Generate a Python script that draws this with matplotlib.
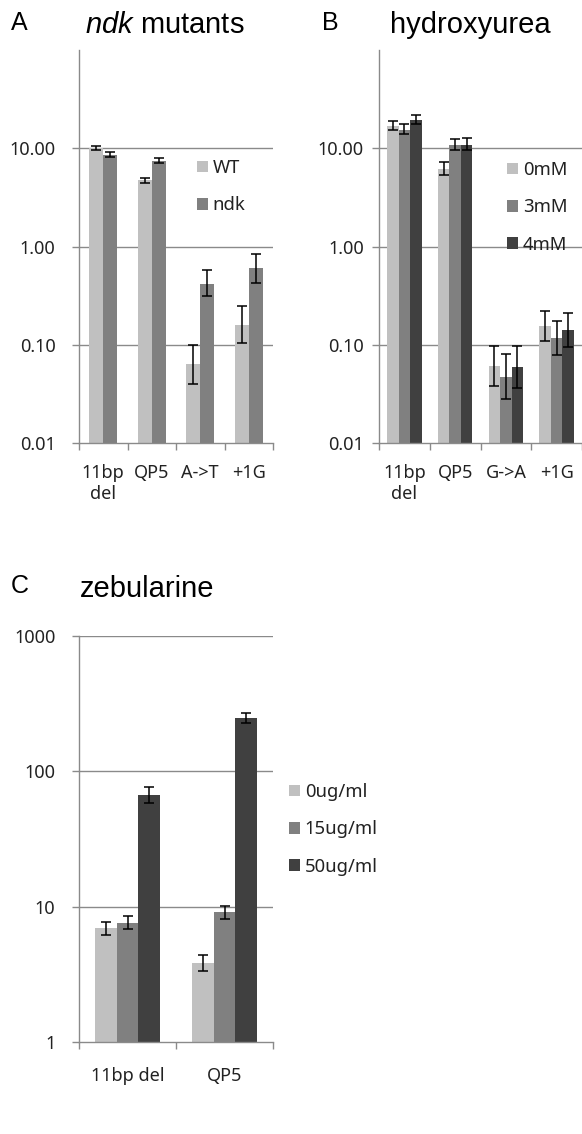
import matplotlib
matplotlib.use("Agg")
import matplotlib.pyplot as plt
import numpy as np

plt.rcParams['font.family'] = ['Noto Sans', 'DejaVu Sans']
plt.rcParams['mathtext.fontset'] = 'custom'
plt.rcParams['mathtext.it'] = 'Liberation Sans:italic'
plt.rcParams['mathtext.rm'] = 'Liberation Sans'

# %% data
cats_a = ["11bp\ndel", "QP5", "A->T", "+1G"]
series_a = ["WT", "ndk"]
vals_a = [[10.0, 4.7, 0.064, 0.16],
          [8.6, 7.4, 0.42, 0.60]]
lo_a = [[9.6, 4.4, 0.040, 0.104],
        [8.1, 7.0, 0.31, 0.43]]
hi_a = [[10.5, 5.0, 0.100, 0.246],
        [9.1, 7.9, 0.58, 0.83]]

cats_b = ["11bp\ndel", "QP5", "G->A", "+1G"]
series_b = ["0mM", "3mM", "4mM"]
vals_b = [[16.8, 6.2, 0.061, 0.156],
          [15.3, 10.7, 0.0475, 0.117],
          [19.3, 10.8, 0.059, 0.141]]
lo_b = [[15.5, 5.4, 0.038, 0.109],
        [14.1, 9.5, 0.028, 0.079],
        [17.5, 9.5, 0.036, 0.094]]
hi_b = [[19.0, 7.2, 0.096, 0.221],
        [17.5, 12.4, 0.080, 0.176],
        [21.7, 12.6, 0.096, 0.210]]

cats_c = ["11bp del", "QP5"]
series_c = ["0ug/ml", "15ug/ml", "50ug/ml"]
vals_c = [[6.9, 3.86],
          [7.6, 9.1],
          [67.0, 249.0]]
lo_c = [[6.2, 3.37],
        [6.8, 8.1],
        [58.5, 226.0]]
hi_c = [[7.7, 4.4],
        [8.5, 10.2],
        [76.7, 272.0]]

colors2 = ["#c0c0c0", "#808080"]
colors3 = ["#c0c0c0", "#808080", "#404040"]
GRID = "#8a8a8a"
TXT = "#222222"

W, H = 582, 1134
fig = plt.figure(figsize=(W / 100, H / 100), dpi=100)


def px(x0, y0, x1, y1):
    # pixel box -> figure fraction rect
    return [x0 / W, 1 - y1 / H, (x1 - x0) / W, (y1 - y0) / H]


def panel(rect, cats, series, vals, lo, hi, colors, width, ylim, yticks,
          ylabels, ypad, xpad):
    ax = fig.add_axes(rect)
    ax.set_yscale("log")
    n = len(series)
    x = np.arange(len(cats))
    offs = (np.arange(n) - (n - 1) / 2) * width
    handles = []
    for i in range(n):
        v = np.array(vals[i])
        yerr = [v - np.array(lo[i]), np.array(hi[i]) - v]
        b = ax.bar(x + offs[i], v, width, color=colors[i], zorder=2,
                   label=series[i])
        ax.errorbar(x + offs[i], v, yerr=yerr, fmt="none", ecolor="black",
                    elinewidth=1.1, capsize=3.5, capthick=1.1, zorder=3)
        handles.append(b)
    ax.set_xlim(-0.5, len(cats) - 0.5)
    ax.set_ylim(*ylim)
    ax.set_yticks(yticks)
    ax.set_yticklabels(ylabels)
    ax.yaxis.set_minor_locator(matplotlib.ticker.NullLocator())
    for t in yticks[1:]:
        ax.axhline(t, color=GRID, lw=1.0, zorder=1)
    ax.set_xticks(x)
    ax.set_xticklabels(cats, linespacing=1.25)
    ax.set_xticks(np.arange(len(cats) + 1) - 0.5, minor=True)
    ax.tick_params(axis="x", which="major", length=0, pad=xpad, labelsize=13,
                   colors=TXT)
    ax.tick_params(axis="x", which="minor", length=5, width=1, color=GRID)
    ax.tick_params(axis="y", which="major", length=5, width=1, color=GRID,
                   pad=ypad, labelsize=13, labelcolor=TXT)
    for s in ("top", "right"):
        ax.spines[s].set_visible(False)
    for s in ("left", "bottom"):
        ax.spines[s].set_color(GRID)
        ax.spines[s].set_linewidth(1.0)
    return ax, handles


dec_ticks = [0.01, 0.1, 1, 10]
dec_labels = ["0.01", "0.10", "1.00", "10.00"]

ax_a, h_a = panel(px(79, 50, 273, 443), cats_a, series_a, vals_a, lo_a, hi_a,
                  colors2, 0.29, (0.01, 100), dec_ticks, dec_labels, 12, 15)
ax_b, h_b = panel(px(379, 50, 582, 443), cats_b, series_b, vals_b, lo_b, hi_b,
                  colors3, 0.225, (0.01, 100), dec_ticks, dec_labels, 6, 15)
ax_c, h_c = panel(px(79, 636, 273, 1042), cats_c, series_c, vals_c, lo_c, hi_c,
                  colors3, 0.224, (1, 1000), [1, 10, 100, 1000],
                  ["1", "10", "100", "1000"], 12, 18)

leg_kw = dict(frameon=False, loc="upper left", borderpad=0, borderaxespad=0,
              handlelength=0.6, handleheight=0.6, handletextpad=0.25,
              labelspacing=1.05, fontsize=13.3, labelcolor=TXT,
              bbox_transform=fig.transFigure)
ax_a.legend(handles=h_a, bbox_to_anchor=(197 / W, 1 - 159 / H), **leg_kw)
ax_b.legend(handles=h_b, bbox_to_anchor=(507 / W, 1 - 161 / H), **leg_kw)
ax_c.legend(handles=h_c, bbox_to_anchor=(289 / W, 1 - 783 / H), **leg_kw)

# panel letters and titles
tkw = dict(family="Liberation Sans", va="baseline", color="black")
fig.text(11 / W, 1 - 30 / H, "A", fontsize=18, **tkw)
fig.text(85 / W, 1 - 33 / H, r"$\mathit{ndk}$ mutants", fontsize=21, **tkw)
fig.text(322 / W, 1 - 30 / H, "B", fontsize=18, **tkw)
fig.text(390 / W, 1 - 33 / H, "hydroxyurea", fontsize=21, **tkw)
fig.text(11 / W, 1 - 593 / H, "C", fontsize=18, **tkw)
fig.text(80 / W, 1 - 597 / H, "zebularine", fontsize=21, **tkw)

fig.savefig("out.png", dpi=100)
